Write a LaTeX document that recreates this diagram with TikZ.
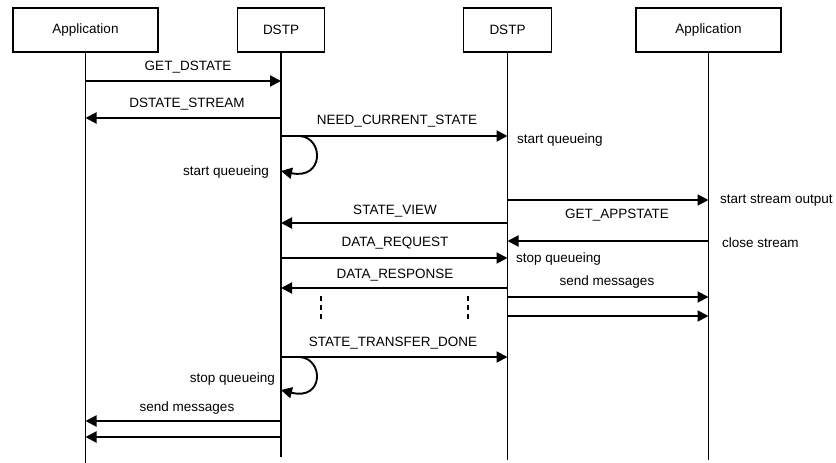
\documentclass[tikz,border=0pt]{standalone}
\usepackage{fontspec}
\setmainfont{Liberation Sans}
\usetikzlibrary{arrows.meta}

\tikzset{
	box/.style={draw, line width=1.9pt, minimum height=44pt, inner sep=0pt, font=\fontsize{13.5}{15}\selectfont},
	life/.style={line width=1.9pt},
	msg/.style={line width=1.9pt, -{Triangle[length=11pt, width=11pt]}},
	lbl/.style={inner sep=0pt, font=\fontsize{13.5}{15}\selectfont},
	dots/.style={line width=2pt, dash pattern=on 5pt off 4pt}
}

\begin{document}
\begin{tikzpicture}[x=1pt, y=-1pt]
				\useasboundingbox (0,0) rectangle (836,463);
				% participants
				\node[box, minimum width=145pt] (appA)at(85.5, 30) {Application};
				\node[box, minimum width=87pt] (dstpA)at(281, 30) {DSTP};
				\node[box, minimum width=88pt] (dstpB)at(507.5, 30) {DSTP};
				\node[box, minimum width=145pt] (appB)at(708.5, 30) {Application};
				\coordinate (endA) at (85.5, 463);
				\coordinate (endB) at (281, 457);
				\coordinate (endC) at (507.5, 460);
				\coordinate (endD) at (708.5, 460);
				\draw[life] (appA.south) -- (endA);
				\draw[life] (dstpA.south) -- (endB);
				\draw[life] (dstpB.south) -- (endC);
				\draw[life] (appB.south) -- (endD);
				% messages
				\draw[msg] (appA |- 0,81) -- (dstpA |- 0,81);
				\node[lbl] (m1)at(188, 67) {GET\_DSTATE};
				\draw[msg] (dstpA |- 0,118) -- (appA |- 0,118);
				\node[lbl] (m2)at(187, 104) {DSTATE\_STREAM};
				\draw[msg] (dstpA |- 0,136) -- (dstpB |- 0,136);
				\node[lbl] (m3)at(397, 121) {NEED\_CURRENT\_STATE};
				\coordinate (loopA) at (300, 136);
				\draw[msg] (loopA) .. controls (324,138) and (324,180) .. (dstpA |- 0,171);
				\node[lbl, anchor=east] (q1)at(269, 172) {start queueing};
				\node[lbl, anchor=west] (q2)at(517, 140) {start queueing};
				\draw[msg] (dstpB |- 0,200) -- (appB |- 0,200);
				\node[lbl, anchor=west] (so)at(720, 201) {start stream output};
				\draw[msg] (dstpB |- 0,223) -- (dstpA |- 0,223);
				\node[lbl] (m4)at(395, 211) {STATE\_VIEW};
				\draw[msg] (appB |- 0,241) -- (dstpB |- 0,241);
				\node[lbl] (m5)at(617, 215) {GET\_APPSTATE};
				\node[lbl, anchor=west] (cs)at(722, 243) {close stream};
				\draw[msg] (dstpA |- 0,258) -- (dstpB |- 0,258);
				\node[lbl] (m6)at(395, 243) {DATA\_REQUEST};
				\node[lbl, anchor=west] (q3)at(516, 259) {stop queueing};
				\draw[msg] (dstpB |- 0,288) -- (dstpA |- 0,288);
				\node[lbl] (m7)at(395, 275) {DATA\_RESPONSE};
				\draw[msg] (dstpB |- 0,297) -- (appB |- 0,297);
				\draw[msg] (dstpB |- 0,316) -- (appB |- 0,316);
				\node[lbl] (sm1)at(607, 282) {send messages};
				\draw[dots] (321, 296) -- (321, 321);
				\draw[dots] (468, 296) -- (468, 321);
				\draw[msg] (dstpA |- 0,357) -- (dstpB |- 0,357);
				\node[lbl] (m8)at(393, 343) {STATE\_TRANSFER\_DONE};
				\coordinate (loopB) at (300, 357);
				\draw[msg] (loopB) .. controls (324,359) and (324,401) .. (dstpA |- 0,390);
				\node[lbl, anchor=east] (q4)at(275, 379) {stop queueing};
				\draw[msg] (dstpA |- 0,421) -- (appA |- 0,421);
				\draw[msg] (dstpA |- 0,437) -- (appA |- 0,437);
				\node[lbl] (sm2)at(187, 408) {send messages};
			\end{tikzpicture}
\end{document}
